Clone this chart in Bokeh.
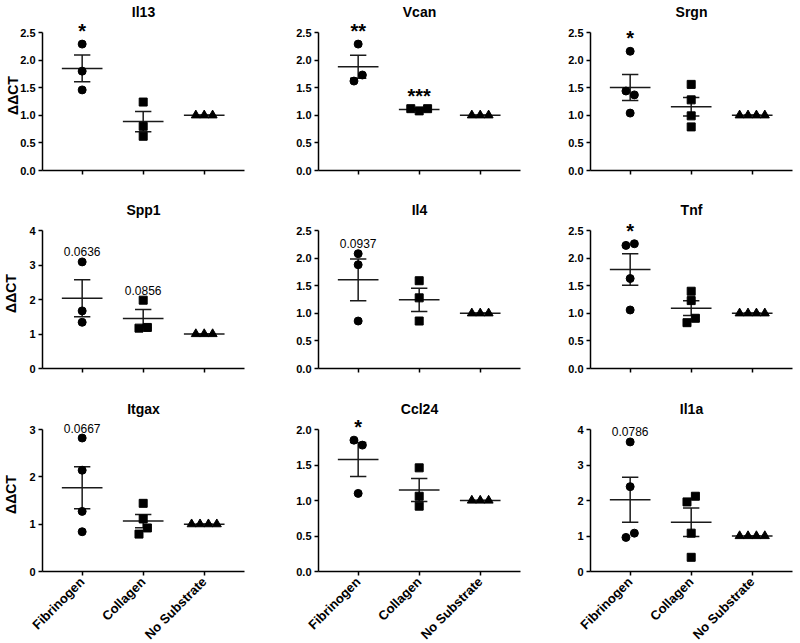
import numpy as np
from bokeh.plotting import figure
from bokeh.layouts import gridplot
from bokeh.models import ColumnDataSource, FixedTicker, Range1d
from bokeh.embed import file_html
from bokeh.resources import INLINE
from bokeh.core.properties import value

# ---------------- data ----------------
groups = ["Fibrinogen", "Collagen", "No Substrate"]
titles = ["Il13", "Vcan", "Srgn", "Spp1", "Il4", "Tnf", "Itgax", "Ccl24", "Il1a"]

il13_fib = [2.29, 1.80, 1.46]
il13_col = [1.24, 0.80, 0.62]
il13_none = [1.0, 1.0, 1.0]
il13_marks = ["*", "", ""]

vcan_fib = [2.29, 1.62, 1.73]
vcan_col = [1.12, 1.08, 1.12]
vcan_none = [1.0, 1.0, 1.0]
vcan_marks = ["**", "***", ""]

srgn_fib = [2.16, 1.44, 1.37, 1.04]
srgn_col = [1.56, 1.28, 0.99, 0.79]
srgn_none = [1.0, 1.0, 1.0, 1.0]
srgn_marks = ["*", "", ""]

spp1_fib = [3.09, 1.67, 1.34]
spp1_col = [1.98, 1.17, 1.19]
spp1_none = [1.0, 1.0, 1.0]
spp1_marks = ["0.0636", "0.0856", ""]

il4_fib = [2.08, 1.88, 0.86]
il4_col = [1.59, 1.28, 0.86]
il4_none = [1.0, 1.0, 1.0]
il4_marks = ["0.0937", "", ""]

tnf_fib = [2.23, 2.26, 1.63, 1.06]
tnf_col = [1.40, 1.23, 0.83, 0.91]
tnf_none = [1.0, 1.0, 1.0, 1.0]
tnf_marks = ["*", "", ""]

itgax_fib = [2.82, 2.14, 1.27, 0.84]
itgax_col = [1.44, 1.11, 0.79, 0.92]
itgax_none = [1.0, 1.0, 1.0, 1.0]
itgax_marks = ["0.0667", "", ""]

ccl24_fib = [1.85, 1.78, 1.10]
ccl24_col = [1.46, 1.06, 0.92]
ccl24_none = [1.0, 1.0, 1.0]
ccl24_marks = ["*", "", ""]

il1a_fib = [3.65, 2.39, 0.96, 1.08]
il1a_col = [1.96, 2.12, 1.08, 0.40]
il1a_none = [1.0, 1.0, 1.0, 1.0]
il1a_marks = ["0.0786", "", ""]

ticks_25 = [0, 0.5, 1.0, 1.5, 2.0, 2.5]
labels_25 = ["0.0", "0.5", "1.0", "1.5", "2.0", "2.5"]
ticks_20 = [0, 0.5, 1.0, 1.5, 2.0]
labels_20 = ["0.0", "0.5", "1.0", "1.5", "2.0"]
ticks_4 = [0, 1, 2, 3, 4]
labels_4 = ["0", "1", "2", "3", "4"]
ticks_3 = [0, 1, 2, 3]
labels_3 = ["0", "1", "2", "3"]

panels = [
    ([il13_fib, il13_col, il13_none], ticks_25, labels_25, il13_marks),
    ([vcan_fib, vcan_col, vcan_none], ticks_25, labels_25, vcan_marks),
    ([srgn_fib, srgn_col, srgn_none], ticks_25, labels_25, srgn_marks),
    ([spp1_fib, spp1_col, spp1_none], ticks_4, labels_4, spp1_marks),
    ([il4_fib, il4_col, il4_none], ticks_25, labels_25, il4_marks),
    ([tnf_fib, tnf_col, tnf_none], ticks_25, labels_25, tnf_marks),
    ([itgax_fib, itgax_col, itgax_none], ticks_3, labels_3, itgax_marks),
    ([ccl24_fib, ccl24_col, ccl24_none], ticks_20, labels_20, ccl24_marks),
    ([il1a_fib, il1a_col, il1a_none], ticks_4, labels_4, il1a_marks),
]

# ---------------- layout / style ----------------
FONT = "Liberation Sans"
FRAME_W = 202
HEAD = 12
X0, X1 = 0.35, 3.66
col_left = [32, 32, 32]
col_right = [42, 38, 2]
row_top = [17, 28, 29]
row_bottom = [20, 20, 64]
row_frame = [150, 150, 154]
ylabel_standoff = [-4, 7, 7]
markers = ["circle", "square", "triangle"]
msizes = [8, 8, 9]
D_PX = 8.4
MEAN_HW = 0.333
CAP_HW = 0.134
LINE = "#1a1a1a"
STAR_LIFT = 13    # px from point centre to star baseline
NUM_LIFT = 10     # px from point centre to number baseline


def jitter(vals, ppu_y, d_px):
    n = len(vals)
    order = sorted(range(n), key=lambda i: vals[i])
    clusters, cur = [], [order[0]]
    for a, b in zip(order[:-1], order[1:]):
        if (vals[b] - vals[a]) * ppu_y < d_px:
            cur.append(b)
        else:
            clusters.append(cur)
            cur = [b]
    clusters.append(cur)
    off = [0.0] * n
    for c in clusters:
        c = sorted(c)
        m = len(c)
        for k, i in enumerate(c):
            off[i] = (k - (m - 1) / 2) * d_px
    return off


figs = []
for idx, (series, ticks, tlabels, marks) in enumerate(panels):
    r, c = divmod(idx, 3)
    ymax = ticks[-1]
    F = row_frame[r]
    axis_px = F - HEAD
    yend = ymax * F / axis_px
    ppu_y = axis_px / ymax
    ppu_x = FRAME_W / (X1 - X0)

    p = figure(frame_width=FRAME_W, frame_height=F,
               x_range=Range1d(X0, X1), y_range=Range1d(0, yend),
               output_backend="svg", toolbar_location=None,
               min_border_left=col_left[c], min_border_right=col_right[c],
               min_border_top=row_top[r], min_border_bottom=row_bottom[r])
    p.outline_line_color = None
    p.xgrid.visible = False
    p.ygrid.visible = False
    p.background_fill_color = "white"

    p.title.text = titles[idx]
    p.title.align = "center"
    p.title.text_font = FONT
    p.title.text_font_size = "14px"
    p.title.text_font_style = "bold"
    p.title.text_color = "black"
    p.title.standoff = 2

    for ax in (p.xaxis[0], p.yaxis[0]):
        ax.axis_line_color = "black"
        ax.axis_line_width = 1.5
        ax.major_tick_line_color = "black"
        ax.major_tick_line_width = 1.5
        ax.major_tick_out = 4
        ax.major_tick_in = 0
        ax.minor_tick_line_color = None
        ax.major_label_text_font = FONT
        ax.major_label_text_font_style = "bold"
        ax.major_label_text_color = "black"
    p.yaxis.ticker = FixedTicker(ticks=ticks)
    p.yaxis.major_label_overrides = {t: l for t, l in zip(ticks, tlabels)}
    p.yaxis.major_label_text_font_size = "11px"
    p.yaxis.major_label_standoff = 3
    p.yaxis.bounds = (0, ymax)
    if c == 0:
        p.yaxis.axis_label = "ΔΔCT"
        p.yaxis.axis_label_text_font = FONT
        p.yaxis.axis_label_text_font_size = "14px"
        p.yaxis.axis_label_text_font_style = "bold"
        p.yaxis.axis_label_text_color = "black"
        p.yaxis.axis_label_standoff = ylabel_standoff[r]

    p.xaxis.ticker = FixedTicker(ticks=[1, 2, 3])
    if r == 2:
        p.xaxis.major_label_overrides = {i + 1: g for i, g in enumerate(groups)}
        p.xaxis.major_label_orientation = np.pi / 4
        p.xaxis.major_label_text_font_size = "13px"
        p.xaxis.major_label_standoff = 4
    else:
        p.xaxis.major_label_overrides = {i + 1: "" for i in range(3)}
        p.xaxis.major_label_text_font_size = "1px"
        p.xaxis.major_label_standoff = 0

    # mean and SEM lines
    x0s, x1s, y0s, y1s = [], [], [], []
    for g, vals in enumerate(series):
        gx = g + 1
        arr = np.array(vals, dtype=float)
        mean = arr.mean()
        sem = arr.std(ddof=1) / np.sqrt(len(arr))
        x0s += [gx - MEAN_HW, gx, gx - CAP_HW, gx - CAP_HW]
        x1s += [gx + MEAN_HW, gx, gx + CAP_HW, gx + CAP_HW]
        y0s += [mean, mean - sem, mean + sem, mean - sem]
        y1s += [mean, mean + sem, mean + sem, mean - sem]
    p.segment(x0=x0s, x1=x1s, y0=y0s, y1=y1s, line_color=LINE, line_width=1.5)

    # points
    for g, vals in enumerate(series):
        gx = g + 1
        offs = jitter(vals, ppu_y, D_PX)
        src = ColumnDataSource(dict(x=[gx + o / ppu_x for o in offs], y=vals))
        p.scatter("x", "y", source=src, marker=markers[g], size=msizes[g],
                  fill_color="black", line_color="black")

    # annotations
    sx, sy, st, nx, ny, nt = [], [], [], [], [], []
    for g, (vals, m) in enumerate(zip(series, marks)):
        if not m:
            continue
        if set(m) == {"*"}:
            sx.append(g + 1); sy.append(max(vals) + STAR_LIFT / ppu_y); st.append(m)
        else:
            nx.append(g + 1); ny.append(max(vals) + NUM_LIFT / ppu_y); nt.append(m)
    if st:
        p.text(x=sx, y=sy, text=st, text_align="center", text_baseline="alphabetic",
               text_font=value(FONT), text_font_style="bold",
               text_font_size="20px", text_color="black")
    if nt:
        p.text(x=nx, y=ny, text=nt, text_align="center", text_baseline="alphabetic",
               text_font=value(FONT), text_font_style="normal",
               text_font_size="12px", text_color="black")
    figs.append(p)

grid = gridplot([figs[0:3], figs[3:6], figs[6:9]], toolbar_location=None)
open("out.html", "w").write(file_html(grid, INLINE))
